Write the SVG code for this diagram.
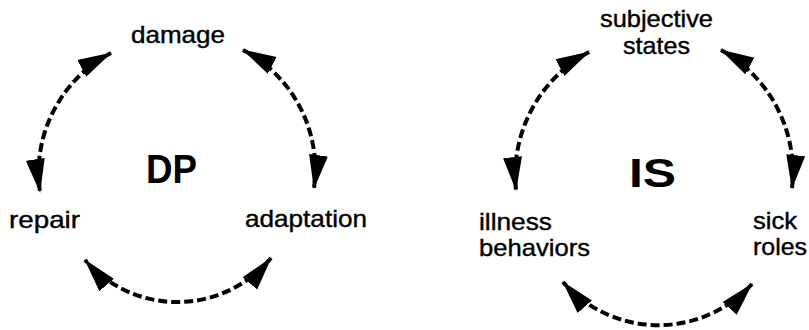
<svg xmlns="http://www.w3.org/2000/svg" width="809" height="330" viewBox="0 0 809 330">
<defs>
<marker id="ah" markerUnits="userSpaceOnUse" markerWidth="34" markerHeight="22" viewBox="0 0 34 22" refX="33" refY="11" orient="auto-start-reverse">
<path d="M0,1.5 L34,11 L0,20.5 Z" fill="#000"/>
</marker>
<style>
.lbl{font-family:"Liberation Sans",Arial,sans-serif;font-size:24px;fill:#000;stroke:#000;stroke-width:0.4}
.big{font-family:"Liberation Sans",Arial,sans-serif;font-size:40px;font-weight:bold;fill:#000}
.arc{fill:none;stroke:#000;stroke-width:4;stroke-dasharray:9 4;marker-start:url(#ah);marker-end:url(#ah)}
</style>
</defs>
<rect width="809" height="330" fill="#fff"/>
<g id="connectors">
<path class="arc" d="M111,53 A135,135 0 0 0 40,192"/>
<path class="arc" d="M243,50 A135,135 0 0 1 314,188"/>
<path class="arc" d="M271,258 A122,122 0 0 1 85,260"/>
<path class="arc" d="M589,52 A140,140 0 0 0 516,190"/>
<path class="arc" d="M721,50 A140,140 0 0 1 792,188"/>
<path class="arc" d="M752,284 A127,127 0 0 1 563,282"/>
</g>
<g id="damage"><text class="lbl" x="131" y="43" textLength="94" lengthAdjust="spacingAndGlyphs">damage</text></g>
<g id="repair"><text class="lbl" x="9" y="228" textLength="71" lengthAdjust="spacingAndGlyphs">repair</text></g>
<g id="adaptation"><text class="lbl" x="245" y="227" textLength="122" lengthAdjust="spacingAndGlyphs">adaptation</text></g>
<g id="DP"><text class="big" x="146" y="183" textLength="51" lengthAdjust="spacingAndGlyphs">DP</text></g>
<g id="subjective-states"><text class="lbl" x="600" y="27" textLength="113" lengthAdjust="spacingAndGlyphs">subjective</text><text class="lbl" x="623" y="54" textLength="67" lengthAdjust="spacingAndGlyphs">states</text></g>
<g id="illness-behaviors"><text class="lbl" x="479" y="230" textLength="73" lengthAdjust="spacingAndGlyphs">illness</text><text class="lbl" x="479" y="256" textLength="111" lengthAdjust="spacingAndGlyphs">behaviors</text></g>
<g id="sick-roles"><text class="lbl" x="753" y="229" textLength="44" lengthAdjust="spacingAndGlyphs">sick</text><text class="lbl" x="753" y="255" textLength="54" lengthAdjust="spacingAndGlyphs">roles</text></g>
<g id="IS"><text class="big" x="629" y="187" textLength="47" lengthAdjust="spacingAndGlyphs">IS</text></g>
</svg>
